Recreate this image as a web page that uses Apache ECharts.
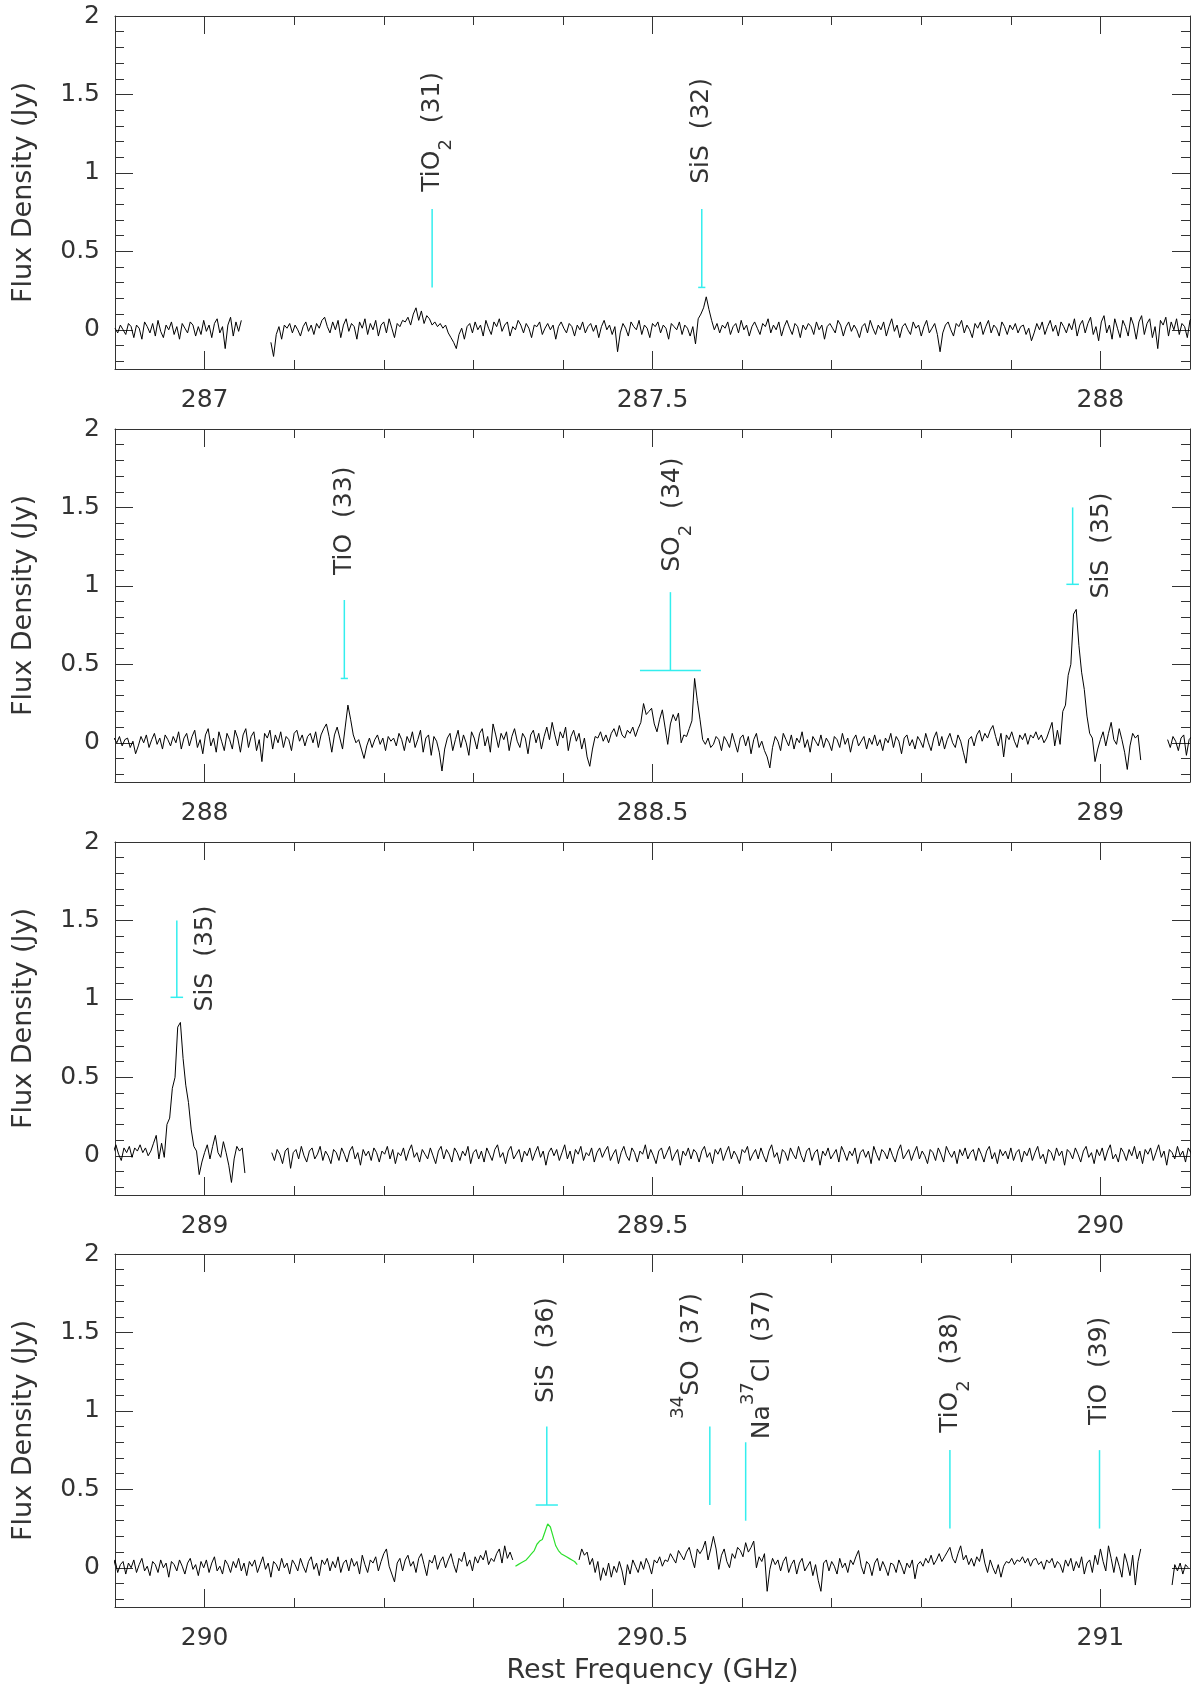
<!DOCTYPE html>
<html><head><meta charset="utf-8">
<script src="https://cdn.jsdelivr.net/npm/echarts@6/dist/echarts.min.js"></script>
<style>html,body{margin:0;padding:0;background:#fff}#c{width:1191px;height:1686px}</style>
</head><body><div id="c"></div>
<script>
// ---------- panels / ticks ----------
const panelMin = [286.9, 287.9, 288.9, 289.9];
const panelMax = [288.1, 289.1, 290.1, 291.1];
const xMajorTicks = [[287, 287.5, 288], [288, 288.5, 289], [289, 289.5, 290], [290, 290.5, 291]];
const xMinorTicks = [
  [287.1, 287.2, 287.3, 287.4, 287.6, 287.7, 287.8, 287.9],
  [288.1, 288.2, 288.3, 288.4, 288.6, 288.7, 288.8, 288.9],
  [289.1, 289.2, 289.3, 289.4, 289.6, 289.7, 289.8, 289.9],
  [290.1, 290.2, 290.3, 290.4, 290.6, 290.7, 290.8, 290.9]
];
const yMajorTicks = [0, 0.5, 1, 1.5, 2];
const yMinorTicks = [-0.2, -0.1, 0.1, 0.2, 0.3, 0.4, 0.6, 0.7, 0.8, 0.9, 1.1, 1.2, 1.3, 1.4, 1.6, 1.7, 1.8, 1.9];

// ---------- spectrum (Jy), channel step 3 MHz, segments start (GHz) ----------
const segStart = [286.900, 287.074, 289.075, 290.418, 291.080];
const chanStep = 0.003;
const flux1 = [
.01,-.02,.03,.00,-.03,.04,.02,-.05,.03,.01,-.06,.05,.02,-.02,.04,-.04,.06,-.01,-.05,.03,
.00,.05,-.03,.02,-.06,.04,.01,-.02,.05,.03,-.04,.02,-.03,.06,-.01,.03,-.05,.04,.07,-.02,
.02,-.12,.03,.08,-.04,.05,-.01,.06];
const flux2 = [
-.08,-.17,-.03,.02,-.06,.03,.01,.04,-.02,.03,.00,-.04,.02,.05,-.01,.03,-.03,.04,.01,.06,
.08,.02,-.02,.05,.00,.06,-.05,.03,.07,-.01,.04,.02,-.06,.05,.01,.07,-.03,.04,.00,.06,
-.04,.03,.05,-.02,.07,.01,-.05,.04,.02,.06,.05,.08,.03,.10,.14,.06,.12,.04,.09,.07,
.03,.05,.02,.04,.01,.03,-.02,-.05,-.08,-.12,-.03,.01,-.06,.02,.04,-.02,.05,.00,.03,-.04,
.06,.01,-.03,.05,.02,.07,-.01,.03,.05,-.04,.02,.00,.06,.03,-.02,.04,.01,-.05,.03,.02,
.05,-.03,.01,.04,.00,.03,-.06,.02,.05,.01,-.02,.04,.02,-.04,.03,.00,.05,-.02,.02,.04,
-.01,.03,-.05,.02,.06,.00,.03,-.03,.02,-.14,-.02,.04,.01,-.04,.05,.02,.00,.06,-.03,.03,
.01,-.05,.04,.02,.05,-.02,.03,.01,-.06,.04,.02,.00,.05,-.03,.03,.01,-.04,.02,-.09,.07,
.10,.14,.21,.13,.06,.00,.04,-.02,.03,.01,.05,-.03,.02,.04,-.02,.06,.00,.03,-.04,.02,
.05,.01,-.03,.04,.02,.07,-.02,.03,.00,.05,-.04,.02,.06,.01,-.03,.04,.02,-.05,.03,.00,
.04,.02,-.03,.05,.00,.03,-.06,.02,.04,.01,-.02,.06,.03,-.04,.02,.05,-.01,.03,.00,-.05,
.02,.04,-.02,.06,.01,-.03,.03,.00,.05,-.04,.02,.07,-.01,.03,-.05,.02,.04,.00,-.03,.05,
.01,.03,-.04,.02,.06,-.02,.01,.04,-.03,-.14,-.02,.03,.05,.00,-.04,.04,.02,.06,-.02,.03,
.00,-.05,.04,.01,.05,-.03,.02,.06,-.02,.03,.01,-.04,.05,.02,-.03,.03,.00,.04,-.02,.02,
.03,-.03,.01,-.07,-.02,.04,.00,.05,-.03,.02,.06,-.01,.03,-.04,.05,.02,-.02,.04,.00,.07,
-.04,.03,.06,-.02,.04,.08,-.03,.02,-.07,.05,.09,-.02,.03,-.06,.07,.01,-.05,.06,.02,-.04,
.08,.03,-.06,.05,.09,-.03,.04,.07,-.05,.02,-.12,.06,.03,.08,-.04,.05,.00,.07,-.03,.04,
.02,-.05,.06,.08,.01,.05,-.02,.04,.06,.00,.07,-.03,.05,.09,.12,.04,-.06,.05,.10,.03,
-.04,.10,.24,.15,.05,.00,.02,-.04,-.10,-.02,.03,-.03,.02,.05,-.01,.03,-.05,.04,.01,.03,
-.02,.06,.02,-.05,.04,.00,.07,-.03,.02,.08,-.06,.03,.05,-.08,.04,.01,-.06,-.18,-.04,.03,
.06,-.05,.02,.08,-.03,.05,.00,-.08,.07,.03,-.04,.06,.09,-.02,.04,-.06,.12,.05,-.03,.06,
.02,.07,-.05,.04,.09,.01,-.03,.06,.03,-.07,.05,.08,.00,.06,-.04,.04,.10,.02,.13,.05,
-.02,.07,.03,.10,-.05,.04,.08,.01,.06,-.04,.03,-.09,-.15,-.04,.04,.03,.07,.01,.05,.00,
.06,.09,.04,.11,.05,.03,.08,.06,.10,.04,.09,.13,.25,.18,.20,.22,.12,.07,.15,.21,
.10,-.01,.12,.18,.14,.19,.00,.05,.04,.09,.14,.41,.27,.15,.02,-.01,.03,-.03,-.01,.04,
.02,-.05,.04,.01,-.03,.06,.00,-.06,.03,.05,-.02,.04,-.07,.02,.06,-.03,.01,-.05,-.09,-.16,
-.03,.04,.01,-.05,.06,.02,-.02,.05,-.04,.03,.00,.07,-.03,.02,-.06,.04,.01,-.02,.05,-.03,
.03,.00,-.05,.04,.02,-.03,.06,-.01,.03,-.06,.02,.05,-.02,.01,.04,-.04,.03,-.01,.05,-.02,
.02,-.05,.03,.00,.06,-.03,.04,.01,-.07,.03,.05,-.02,.02,-.04,.04,.01,-.03,.06,.00,-.05,
.03,.07,-.02,.04,-.04,.02,.06,.00,-.03,.05,.01,-.06,-.13,.02,.04,-.02,.05,.08,.01,.06,
.03,.08,.11,.04,-.02,.06,-.09,.05,.02,.07,.01,-.03,.05,.02,.06,-.01,.05,.03,.07,.02,
.05,.00,.03,.08,.13,-.02,.08,-.01,.20,.24,.43,.50,.82,.85,.62,.45,.34,.17,.06,.03,
-.12,-.04,.02,.07,-.02,.06,.13,.02,-.01,.09,.02,-.06,-.17,-.02,.06,.03,.05,-.11];
const flux3 = [
.02,-.03,.04,.01,-.05,.03,.05,-.08,.02,.04,-.02,.06,.00,-.04,.03,.05,-.02,.01,.06,-.03,
.03,.00,-.05,.04,.02,-.03,.05,.01,-.04,.03,.06,-.02,.02,-.06,.04,.00,.03,-.03,.05,.02,
-.04,.03,.01,.06,-.02,.04,-.05,.02,.00,.05,-.03,.03,.07,-.01,.02,-.04,.04,.01,-.02,.05,
.00,-.05,.03,.06,-.02,.04,.01,-.04,.05,.02,-.03,.03,.00,.06,-.05,.02,.04,-.02,.03,-.04,
.05,.01,-.03,.04,.07,-.01,.02,-.05,.03,.06,-.02,.01,.04,-.04,.03,.00,.05,-.03,.02,.06,
-.01,.03,-.06,.02,.05,.00,.04,-.03,.02,.07,-.02,.03,-.05,.04,.01,.06,-.03,.02,.00,.05,
-.04,.02,.05,-.01,.03,.06,-.03,.01,.04,-.05,.02,.06,.00,-.03,.05,.02,-.04,.03,.01,.07,
-.02,.04,.00,-.05,.03,.05,-.02,.02,.06,-.03,.01,.04,-.06,.03,.00,.05,-.02,.04,.02,-.04,
.03,.06,-.01,.02,-.05,.04,.01,.05,-.03,.02,.06,-.02,.03,.00,-.05,.04,.02,.06,-.03,.01,
.04,-.02,.05,.00,-.04,.03,.07,-.01,.02,-.05,.04,.02,-.03,.05,.01,-.02,.06,.00,-.04,.03,
.05,-.03,.02,.04,-.06,.03,.00,.05,-.02,.01,.04,-.04,.06,.02,-.03,.03,.00,.05,-.05,.02,
.04,-.01,.03,-.05,.06,.01,-.03,.04,.02,-.02,.05,.00,-.04,.03,.07,-.02,.01,.04,-.03,.02,
.06,-.02,.03,.00,-.05,.04,.02,-.03,.05,.01,-.04,.06,.02,-.01,.03,-.05,.04,.00,.05,-.02,
.02,.04,-.03,.05,.01,-.04,.03,.06,-.02,.02,-.05,.04,.00,.03,-.02,.05,-.03,.02,.04,-.04,
.03,.00,.05,-.03,.02,.06,-.02,.01,-.05,.04,.02,-.03,.05,.00,.03,-.06,.04,.02,-.02,.05,
.01,-.04,.03,.06,-.01,.02,-.05,.04,.00,.05,-.03,.03,.07,-.02,.01,-.04,.05,.02,-.03,.04,
.00,.06,-.02,.03,-.05,.04,.01,.05,-.03,.02,.07,-.01,.03,-.06,.04,.02,-.02,.06,.00,.03,
-.04,.05,.02,-.02,.06,.01,-.03,.04,.07,-.01,.03,-.05,.05,.02,.06,-.02,.04,.00,.07,-.03,
.03,.05,-.02,.06,.01,.04,-.04,.08,.02,-.03,.05,.03,.07,-.02,.04,.09,.12,.01,-.04,-.09,
.03,.06,-.02,.05,.08,.01,.04,-.03,.06,.09,.02,-.05,.05,.03,.08,-.01,.04,.07,.00,.05,
.09,.02,-.03,.06,.04,.10,.01,.05,-.02,.07,.03,.08,.05,.11,.02,.06,.04,.09,.12,.03,
.14,.06,.10,.05];
const flux4 = [
.05,.12,.08,.10,.02,.06,-.03,.04,-.08,.00,-.05,.03,-.06,.01,-.03,.04,-.02,-.11,.02,-.04,
.05,.01,-.03,.04,-.01,.06,.02,-.04,.05,.03,.07,.01,.05,.04,.09,.06,.03,.11,.08,.05,
.10,.13,.06,.00,.12,.09,.12,.17,.05,.12,.20,.12,-.01,.08,.12,.04,.00,.09,.06,.13,
.11,.07,.16,.10,.13,.17,.00,.07,.04,.09,-.15,-.01,.06,.02,.05,-.02,.04,.07,-.03,.02,
.05,-.04,.03,.06,-.02,.01,.04,-.05,.02,-.08,-.15,.03,.05,-.02,.04,.01,-.04,.06,.00,.03,
-.03,.05,.02,.07,.11,.01,-.04,.04,.02,-.05,.03,.06,-.02,.04,.00,-.05,.03,.02,-.03,.05,
.01,-.04,.03,.00,.05,-.07,.02,.04,.01,.06,.03,.08,.02,.05,.09,.04,.07,.10,.13,.06,
.03,.09,.14,.05,.08,.02,.06,.01,.07,.04,.12,.03,-.03,.05,.00,-.04,.02,-.06,.01,.04,
.03,.06,.02,.05,.04,.07,.03,.06,.01,.05,.06,.02,.04,-.01,.05,.03,.06,.00,.04,.02,
-.03,.05,.01,.06,-.02,.04,.00,.07,-.04,.03,.05,-.03,.08,.02,.12,.04,-.02,.14,.06,-.03,
.07,.01,-.06,.09,.03,-.05,.08,-.11,.04,.12];
const flux5 = [-.11,.02,-.02,.03,-.04,.02,.00];

// green model profile of SiS (36)
const modelStart = 290.347;
const modelFlux = [.01,.02,.03,.04,.05,.07,.09,.11,.15,.17,.18,.23,.28,.26,.20,.14,.11,.09,.08,.07,.06,.05,.04,.02];

// ---------- line identifications ----------
const markerLabel = [
  '{m|TiO}{sub|2}{m|  (31)}', '{m|SiS  (32)}', '{m|TiO  (33)}', '{m|SO}{sub|2}{m|  (34)}',
  '{m|SiS  (35)}', '{m|SiS  (36)}', '{sup|34}{m|SO  (37)}', '{m|Na}{sup|37}{m|Cl  (37)}',
  '{m|TiO}{sub|2}{m|  (38)}', '{m|TiO  (39)}'];
const markerFreq = [287.254, 287.555, 288.156, 288.520, 288.969, 290.382, 290.564, 290.604, 290.832, 290.999];
const markerLow  = [0.27, 0.27, 0.41, 0.46, 1.01, 0.40, 0.40, 0.30, 0.25, 0.25];
const markerHigh = [0.77, 0.77, 0.91, 0.96, 1.50, 0.90, 0.90, 0.80, 0.75, 0.75];
const markerHalfWidth = [0, 0.004, 0.004, 0.034, 0.007, 0.0124, 0, 0, 0, 0];
const labelFreq = [287.254, 287.555, 288.156, 288.522, 289.001, 290.382, 290.544, 290.623, 290.833, 290.999];
const labelFlux = [0.88, 0.93, 1.07, 1.09, 0.92, 1.05, 0.95, 0.82, 0.86, 0.91];

// ---------- build ----------
const spec = [];
[flux1, flux2, flux3, flux4, flux5].forEach((arr, k, all) => {
  arr.forEach((v, i) => spec.push([+(segStart[k] + i * chanStep).toFixed(4), v]));
  if (k < all.length - 1) spec.push([+(segStart[k] + arr.length * chanStep).toFixed(4), '-']);
});
const model = modelFlux.map((v, i) => [+(modelStart + i * chanStep).toFixed(4), v]);

const FONT = 'DejaVu Sans';
const TXT = '#333';
const AX = '#333';
const CYAN = '#33eeee';
const rich = {
  m:   {fontSize: 25, fontFamily: FONT, lineHeight: 46, fill: TXT, color: TXT},
  sub: {fontSize: 18, fontFamily: FONT, lineHeight: 32, verticalAlign: 'bottom', fill: TXT, color: TXT},
  sup: {fontSize: 18, fontFamily: FONT, lineHeight: 18, verticalAlign: 'top', fill: TXT, color: TXT}
};

const tops = [16, 429, 842, 1254];
const grids = [], xAxes = [], yAxes = [], series = [];
for (let p = 0; p < 4; p++) {
  grids.push({left: 115, width: 1075, top: tops[p], height: 353});
  const bx = {type: 'value', gridIndex: p, min: panelMin[p], max: panelMax[p], splitLine: {show: false}};
  const by = {type: 'value', gridIndex: p, min: -0.25, max: 2, splitLine: {show: false}};
  const line = {show: true, onZero: false, lineStyle: {color: AX, width: 1}};
  const noLine = {show: false, onZero: false};
  const tick = (vals, len) => ({show: true, inside: true, length: len, customValues: vals, lineStyle: {color: AX, width: 1}});
  const lab = (vals, margin) => ({show: true, customValues: vals, margin: margin, fontSize: 25, color: TXT, fontFamily: FONT});
  // x axes: bottom major, bottom minor, top major, top minor
  xAxes.push(Object.assign({}, bx, {position: 'bottom', axisLine: line, axisTick: tick(xMajorTicks[p], 18),
    axisLabel: lab(xMajorTicks[p], 19),
    name: p === 3 ? 'Rest Frequency (GHz)' : '', nameLocation: 'middle', nameGap: 50,
    nameTextStyle: {fontSize: 27, color: TXT, fontFamily: FONT}}));
  xAxes.push(Object.assign({}, bx, {position: 'bottom', axisLine: noLine, axisTick: tick(xMinorTicks[p], 9), axisLabel: {show: false}}));
  xAxes.push(Object.assign({}, bx, {position: 'top', axisLine: line, axisTick: tick(xMajorTicks[p], 18), axisLabel: {show: false}}));
  xAxes.push(Object.assign({}, bx, {position: 'top', axisLine: noLine, axisTick: tick(xMinorTicks[p], 9), axisLabel: {show: false}}));
  // y axes: left major, left minor, right major, right minor
  yAxes.push(Object.assign({}, by, {position: 'left', axisLine: line, axisTick: tick(yMajorTicks, 18),
    axisLabel: lab(yMajorTicks, 15),
    name: 'Flux Density (Jy)', nameLocation: 'middle', nameGap: 78, nameRotate: 90,
    nameTextStyle: {fontSize: 27, color: TXT, fontFamily: FONT}}));
  yAxes.push(Object.assign({}, by, {position: 'left', axisLine: noLine, axisTick: tick(yMinorTicks, 9), axisLabel: {show: false}}));
  yAxes.push(Object.assign({}, by, {position: 'right', axisLine: line, axisTick: tick(yMajorTicks, 18), axisLabel: {show: false}}));
  yAxes.push(Object.assign({}, by, {position: 'right', axisLine: noLine, axisTick: tick(yMinorTicks, 9), axisLabel: {show: false}}));

  series.push({type: 'line', xAxisIndex: 4 * p, yAxisIndex: 4 * p, data: spec, showSymbol: false, symbol: 'none',
    connectNulls: false, clip: true, lineStyle: {color: '#000', width: 1}, silent: true, z: 3});
  if (p === 3) {
    series.push({type: 'line', xAxisIndex: 4 * p, yAxisIndex: 4 * p, data: model, showSymbol: false, symbol: 'none',
      clip: true, lineStyle: {color: '#2de02d', width: 1.2}, silent: true, z: 3});
  }
  const idx = [];
  markerFreq.forEach((f, k) => { if (f > panelMin[p] && f < panelMax[p]) idx.push(k); });
  series.push({
    type: 'custom', xAxisIndex: 4 * p, yAxisIndex: 4 * p, silent: true, z: 4,
    data: idx.map(k => [markerFreq[k], markerLow[k], markerHigh[k], markerHalfWidth[k], labelFreq[k], labelFlux[k]]),
    encode: {x: 0, y: 1},
    renderItem: (params, api) => {
      const k = idx[params.dataIndex];
      const f = api.value(0), lo = api.value(1), hi = api.value(2), hw = api.value(3);
      const a = api.coord([f, lo]), b = api.coord([f, hi]);
      const ch = [{type: 'line', shape: {x1: a[0], y1: a[1], x2: b[0], y2: b[1]}, style: {stroke: CYAN, lineWidth: 1.5}}];
      if (hw > 0) {
        const l = api.coord([f - hw, lo]), r = api.coord([f + hw, lo]);
        ch.push({type: 'line', shape: {x1: l[0], y1: l[1], x2: r[0], y2: r[1]}, style: {stroke: CYAN, lineWidth: 1.5}});
      }
      const t = api.coord([api.value(4), api.value(5)]);
      ch.push({type: 'text', x: t[0], y: t[1], rotation: Math.PI / 2,
        style: {text: markerLabel[k], rich: rich, fill: TXT, fontSize: 25, fontFamily: FONT, align: 'left', verticalAlign: 'middle'}});
      return {type: 'group', children: ch};
    }
  });
}

const chart = echarts.init(document.getElementById('c'));
chart.setOption({animation: false, backgroundColor: '#fff', grid: grids, xAxis: xAxes, yAxis: yAxes, series: series});
</script>
</body></html>
